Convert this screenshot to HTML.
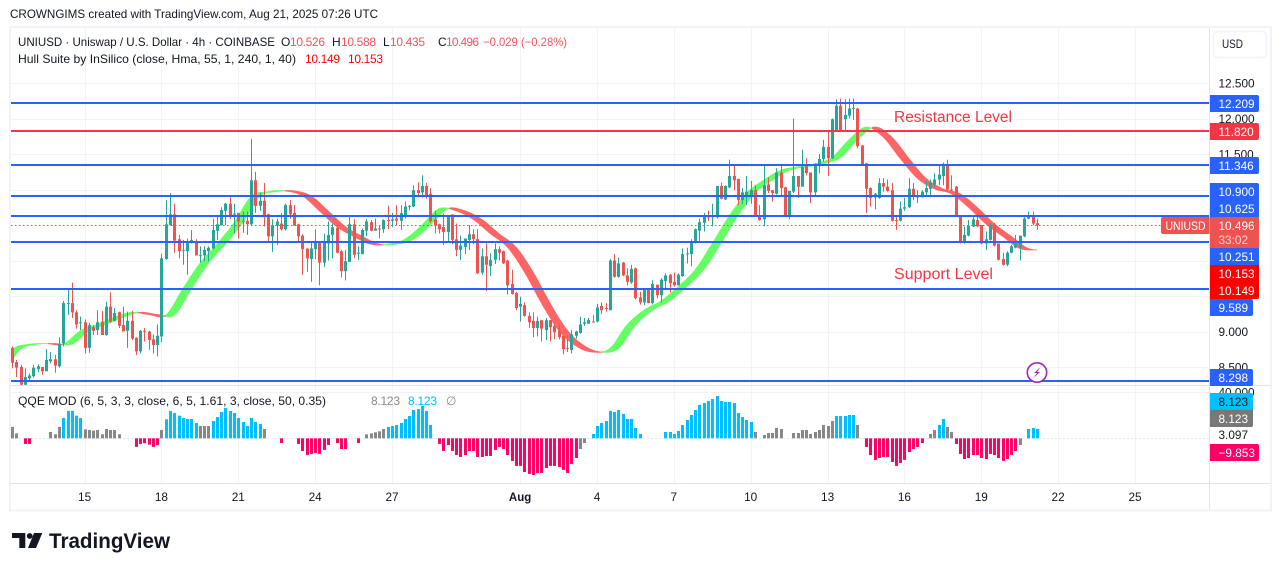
<!DOCTYPE html>
<html lang="en">
<head>
<meta charset="utf-8">
<title>UNIUSD chart</title>
<style>
html,body{margin:0;padding:0;background:#fff;}
svg{display:block;}
text{font-family:"Liberation Sans",sans-serif;fill:#131722;font-size:12px;}
.ax{font-size:11.8px;}
.bd{font-size:11.8px;fill:#fff;}
</style>
</head>
<body>
<svg id="chart" xmlns="http://www.w3.org/2000/svg" width="1281" height="571" viewBox="0 0 1281 571">
  <rect x="0" y="0" width="1281" height="571" fill="#ffffff"/>
  <text x="10" y="18" textLength="368" lengthAdjust="spacingAndGlyphs">CROWNGIMS created with TradingView.com, Aug 21, 2025 07:26 UTC</text>
  <rect x="10" y="27" width="1261" height="483.5" fill="#ffffff" stroke="#f0f3fa" stroke-width="2"/>
  <g id="grid"></g>
  <defs>
    <clipPath id="priceClip"><rect x="11" y="28" width="1198" height="357"/></clipPath>
    <clipPath id="qqeClip"><rect x="11" y="386" width="1198" height="97"/></clipPath>
  </defs>
  <g id="hull" clip-path="url(#priceClip)" opacity="0.6"></g>
  <g id="candles" clip-path="url(#priceClip)"></g>
  <g id="levels"></g>
  <line id="lastLine" x1="11" x2="1161" stroke="#ef5350" stroke-width="1" stroke-dasharray="1.5 2.5"/>
  <g id="qqe" clip-path="url(#qqeClip)"></g>

  <text x="894" y="122" textLength="118" lengthAdjust="spacingAndGlyphs" style="font-size:15.5px;fill:#f23645">Resistance Level</text>
  <text x="894" y="279" textLength="99" lengthAdjust="spacingAndGlyphs" style="font-size:15.5px;fill:#f23645">Support Level</text>

  <g>
    <circle cx="1037" cy="372.5" r="9.7" fill="#ffffff" stroke="#9c27b0" stroke-width="1.6"/>
    <path d="M1040.5 367 L1034 373 L1037 373 L1033.5 378 L1040 372 L1037 372 Z" fill="#9c27b0"/>
  </g>

  <!-- legends -->
  <g>
    <text x="18" y="46" textLength="257" lengthAdjust="spacingAndGlyphs">UNIUSD · Uniswap / U.S. Dollar · 4h · COINBASE</text>
    <text x="281" y="46">O</text><text x="290" y="46" style="fill:#f7525f" textLength="35">10.526</text>
    <text x="332" y="46">H</text><text x="341" y="46" style="fill:#f7525f" textLength="35">10.588</text>
    <text x="383" y="46">L</text><text x="390" y="46" style="fill:#f7525f" textLength="35">10.435</text>
    <text x="438" y="46">C</text><text x="446" y="46" style="fill:#f7525f" textLength="33">10.496</text>
    <text x="483" y="46" style="fill:#f7525f" textLength="84" lengthAdjust="spacingAndGlyphs">−0.029 (−0.28%)</text>
  </g>
  <g>
    <text x="18" y="63" textLength="278" lengthAdjust="spacingAndGlyphs">Hull Suite by InSilico (close, Hma, 55, 1, 240, 1, 40)</text>
    <text x="305" y="63" style="fill:#ff0000" textLength="35">10.149</text>
    <text x="348" y="63" style="fill:#ff0000" textLength="35">10.153</text>
  </g>
  <g>
    <text x="18" y="405" textLength="308" lengthAdjust="spacingAndGlyphs">QQE MOD (6, 5, 3, 3, close, 6, 5, 1.61, 3, close, 50, 0.35)</text>
    <text x="371" y="405" style="fill:#888888" textLength="29">8.123</text>
    <text x="408" y="405" style="fill:#00bfff" textLength="29">8.123</text>
    <text x="446" y="405" style="fill:#888888">∅</text>
  </g>

  <!-- axes frame -->
  <rect x="10" y="385" width="1261" height="1" fill="#e0e3eb"/>
  <rect x="10" y="483" width="1261" height="1" fill="#e0e3eb"/>
  <rect x="1209" y="28" width="1" height="482" fill="#e0e3eb"/>
  <g id="priceTicks"></g>
  <g id="qqeTicks"></g>
  <g id="timeTicks"></g>

  <rect x="1213.5" y="31.5" width="53" height="26" rx="4" fill="#ffffff" stroke="#f0f3fa" stroke-width="1.5"/>
  <text x="1222" y="48" class="ax" textLength="21" lengthAdjust="spacingAndGlyphs">USD</text>

  <!-- axis badges -->
  <g><path d="M1210 95h47a2 2 0 0 1 2 2v13a2 2 0 0 1-2 2h-47z" fill="#2962ff"/><text class="bd" x="1218.5" y="108">12.209</text></g>
  <g><path d="M1210 123h47a2 2 0 0 1 2 2v13a2 2 0 0 1-2 2h-47z" fill="#f23645"/><text class="bd" x="1218.5" y="136">11.820</text></g>
  <g><path d="M1210 157h47a2 2 0 0 1 2 2v13a2 2 0 0 1-2 2h-47z" fill="#2962ff"/><text class="bd" x="1218.5" y="170">11.346</text></g>
  <g><path d="M1210 183h47a2 2 0 0 1 2 2v15h-49z" fill="#2962ff"/><text class="bd" x="1218.5" y="196">10.900</text></g>
  <g><path d="M1210 200h49v17h-49z" fill="#2962ff"/><text class="bd" x="1218.5" y="213">10.625</text></g>
  <g><path d="M1210 217h49v31h-49z" fill="#ef5350"/><text class="bd" x="1218.5" y="230">10.496</text><text x="1218.5" y="244" style="font-size:11.8px;fill:#fbd5d5">33:02</text></g>
  <g><path d="M1163 217h46.5v17h-46.5a2 2 0 0 1-2-2v-13a2 2 0 0 1 2-2z" fill="#ef5350"/><text class="bd" x="1165.5" y="230" textLength="40" lengthAdjust="spacingAndGlyphs">UNIUSD</text></g>
  <g><path d="M1210 248h49v17h-49z" fill="#2962ff"/><text class="bd" x="1218.5" y="261">10.251</text></g>
  <g><path d="M1210 265h49v17h-49z" fill="#ff0000"/><text class="bd" x="1218.5" y="278">10.153</text></g>
  <g><path d="M1210 282h49v15a2 2 0 0 1-2 2h-47z" fill="#ff0000"/><text class="bd" x="1218.5" y="295">10.149</text></g>
  <g><path d="M1210 299h41a2 2 0 0 1 2 2v13a2 2 0 0 1-2 2h-41z" fill="#2962ff"/><text class="bd" x="1218.5" y="312">9.589</text></g>
  <g><path d="M1210 369h41a2 2 0 0 1 2 2v13a2 2 0 0 1-2 2h-41z" fill="#2962ff"/><text class="bd" x="1218.5" y="382">8.298</text></g>
  <g><path d="M1210 393h41a2 2 0 0 1 2 2v15h-43z" fill="#00bfff"/><text x="1218.5" y="406" class="ax">8.123</text></g>
  <g><path d="M1210 410h43v15a2 2 0 0 1-2 2h-41z" fill="#787878"/><text class="bd" x="1218.5" y="423">8.123</text></g>
  <g><path d="M1210 444h47a2 2 0 0 1 2 2v13a2 2 0 0 1-2 2h-47z" fill="#ff0066"/><text class="bd" x="1218.5" y="457">−9.853</text></g>

  <!-- brand -->
  <g>
    <path d="M12 533H25.3V548H19.3V538H12Z M34 533H42.3L36 548H28Z" fill="#131722"/>
    <circle cx="29.7" cy="536" r="2.9" fill="#131722"/>
    <text x="49" y="548" textLength="121" lengthAdjust="spacingAndGlyphs" style="font-size:21.5px;font-weight:bold">TradingView</text>
  </g>
</svg>

<script>
/* Price series, one entry per 4h bar */
const opens=[8.77,8.57,8.50,8.25,8.34,8.37,8.47,8.50,8.44,8.58,
8.61,8.51,8.83,9.39,9.40,9.27,9.12,9.13,8.77,9.06,
9.02,9.14,8.95,9.35,9.15,9.27,9.09,9.01,9.15,8.91,
8.72,9.01,9.00,8.89,8.81,8.93,10.02,10.50,10.65,10.30,
10.14,10.13,10.28,10.25,10.07,10.07,10.13,10.17,10.42,10.50,
10.70,10.80,10.65,10.67,10.55,10.56,10.51,11.13,10.77,10.84,
10.65,10.34,10.49,10.52,10.44,10.78,10.67,10.51,10.35,10.17,
10.02,10.16,10.27,9.97,10.24,10.36,10.46,10.13,9.85,9.98,
10.51,10.10,10.09,10.42,10.54,10.42,10.45,10.44,10.57,10.56,
10.59,10.56,10.62,10.76,10.76,10.99,10.96,11.05,10.94,10.58,
10.51,10.47,10.40,10.65,10.30,10.15,10.19,10.29,10.37,10.30,
9.83,10.06,9.92,10.01,10.16,10.13,10.00,9.67,9.54,9.35,
9.37,9.22,9.15,9.05,9.16,9.02,9.16,9.08,9.01,8.94,
8.77,8.74,8.94,8.98,9.11,9.11,9.14,9.14,9.36,9.33,
9.30,10.00,9.77,9.97,9.79,9.69,9.89,9.48,9.41,9.59,
9.40,9.66,9.51,9.71,9.80,9.70,9.65,9.78,10.09,10.09,
10.25,10.42,10.53,10.62,10.61,10.61,11.05,10.86,11.03,11.19,
11.15,10.85,10.90,10.90,10.99,10.64,10.58,11.07,10.99,10.94,
11.24,11.03,10.63,10.97,11.19,11.04,11.33,11.24,10.96,11.35,
11.43,11.60,11.44,11.83,12.18,11.99,12.04,12.14,12.14,11.62,
11.37,11.02,10.89,10.88,11.09,11.04,10.99,10.57,10.56,10.73,
10.75,11.01,10.92,10.89,10.96,11.01,11.07,11.14,11.19,11.36,
11.00,11.04,10.64,10.27,10.35,10.48,10.57,10.50,10.24,10.29,
10.50,10.24,10.02,9.94,10.11,10.18,10.18,10.34,10.59,10.63,
10.526];
const highs=[8.79,8.60,8.53,8.48,8.41,8.53,8.54,8.50,8.75,8.71,
8.67,8.92,9.43,9.61,9.69,9.30,9.21,9.17,9.12,9.09,
9.30,9.29,9.42,9.55,9.33,9.28,9.35,9.28,9.29,8.92,
9.02,9.05,9.01,8.96,9.10,10.09,10.85,10.95,10.80,10.36,
10.29,10.31,10.43,10.30,10.20,10.20,10.20,10.59,10.64,10.75,
10.81,10.89,10.80,10.67,10.69,10.69,11.71,11.25,10.96,11.09,
10.66,10.58,10.59,10.67,10.80,10.85,10.78,10.52,10.37,10.17,
10.26,10.44,10.27,10.38,10.55,10.52,10.50,10.15,10.15,10.64,
10.58,10.20,10.45,10.58,10.57,10.59,10.49,10.58,10.77,10.67,
10.78,10.78,10.83,10.78,11.06,11.10,11.20,11.09,11.02,10.70,
10.52,10.66,10.64,10.65,10.52,10.35,10.31,10.50,10.44,10.44,
10.17,10.24,10.10,10.24,10.20,10.14,10.01,9.87,9.56,9.49,
9.41,9.27,9.27,9.21,9.16,9.19,9.16,9.10,9.10,8.94,
8.93,9.02,9.01,9.21,9.19,9.19,9.23,9.39,9.41,9.40,
10.02,10.09,10.04,9.98,9.89,9.94,9.90,9.56,9.61,9.61,
9.72,9.66,9.75,9.82,9.81,9.83,9.82,10.17,10.18,10.30,
10.45,10.59,10.67,10.70,10.80,11.05,11.10,11.06,11.42,11.33,
11.15,11.02,11.19,11.12,11.06,10.78,11.35,11.17,10.99,11.30,
11.36,11.04,10.98,12.00,11.19,11.56,11.44,11.24,11.37,11.50,
11.70,11.81,12.00,12.27,12.28,12.27,12.28,12.28,12.15,11.63,
11.37,11.03,10.95,11.16,11.16,11.14,11.09,10.63,10.83,10.88,
11.16,11.09,10.99,10.99,11.13,11.14,11.23,11.36,11.38,11.42,
11.20,11.05,10.64,10.48,10.57,10.64,10.66,10.50,10.41,10.52,
10.53,10.24,10.11,10.13,10.22,10.36,10.35,10.61,10.69,10.69,
10.588];
const lows=[8.48,8.36,8.18,8.22,8.29,8.35,8.43,8.39,8.44,8.55,
8.42,8.49,8.79,9.23,9.19,9.04,9.02,8.69,8.70,8.95,
8.95,8.95,8.94,9.12,9.14,9.05,9.00,8.77,8.88,8.67,
8.69,8.86,8.74,8.69,8.65,8.85,10.01,10.49,10.11,10.03,
9.94,9.80,10.24,10.07,9.97,9.99,9.99,10.16,10.29,10.49,
10.50,10.58,10.38,10.31,10.39,10.36,10.50,10.67,10.70,10.48,
10.27,10.12,10.22,10.42,10.42,10.59,10.49,10.26,9.80,9.84,
9.70,10.02,9.65,9.91,10.00,10.03,10.10,9.76,9.72,9.98,
10.03,10.01,10.09,10.34,10.41,10.42,10.31,10.39,10.44,10.47,
10.50,10.43,10.59,10.71,10.75,10.89,10.89,10.87,10.53,10.38,
10.38,10.22,10.27,10.23,10.06,10.01,10.09,10.15,10.23,9.81,
9.80,9.57,9.78,9.95,10.00,9.95,9.52,9.52,9.30,9.14,
9.21,9.05,8.92,8.93,8.86,8.88,8.86,8.89,8.89,8.68,
8.71,8.69,8.90,8.97,9.08,9.11,9.13,9.13,9.25,9.28,
9.30,9.76,9.76,9.78,9.65,9.67,9.45,9.38,9.37,9.40,
9.38,9.47,9.41,9.59,9.55,9.63,9.65,9.77,9.96,9.92,
10.24,10.27,10.41,10.56,10.48,10.59,10.86,10.85,11.02,10.99,
10.78,10.80,10.78,10.80,10.63,10.56,10.48,10.95,10.83,10.93,
10.91,10.61,10.58,10.95,10.88,11.04,11.20,10.81,10.91,11.23,
11.39,11.19,11.43,11.81,11.81,11.84,12.00,11.98,11.58,11.35,
10.67,10.76,10.72,10.87,10.97,10.97,10.55,10.43,10.55,10.70,
10.74,10.85,10.81,10.89,10.90,10.89,11.04,11.06,11.06,10.99,
10.98,10.63,10.24,10.24,10.34,10.47,10.47,10.23,10.15,10.28,
10.20,10.00,9.93,9.92,10.10,10.17,10.00,10.33,10.58,10.50,
10.435];
const closes=[8.56,8.49,8.25,8.36,8.38,8.49,8.51,8.44,8.60,8.61,
8.52,8.83,9.40,9.40,9.27,9.10,9.13,8.77,9.09,9.01,
9.13,8.95,9.35,9.14,9.26,9.08,9.00,9.15,8.90,8.72,
9.01,9.00,8.88,8.81,8.94,10.03,10.51,10.65,10.28,10.13,
10.15,10.25,10.29,10.07,10.08,10.15,10.18,10.43,10.51,10.71,
10.80,10.63,10.66,10.55,10.56,10.51,11.13,10.77,10.84,10.61,
10.34,10.50,10.55,10.44,10.78,10.65,10.49,10.34,10.16,10.03,
10.17,10.26,9.97,10.26,10.36,10.47,10.11,9.85,9.99,10.51,
10.08,10.11,10.43,10.55,10.42,10.45,10.44,10.57,10.56,10.58,
10.56,10.67,10.76,10.77,10.99,10.95,11.05,10.91,10.55,10.49,
10.44,10.40,10.64,10.29,10.15,10.21,10.31,10.37,10.30,9.82,
10.06,9.94,10.01,10.16,10.11,9.96,9.65,9.53,9.33,9.39,
9.22,9.13,9.05,9.15,9.04,9.16,9.06,8.99,8.92,8.75,
8.76,8.96,9.00,9.10,9.13,9.16,9.13,9.34,9.30,9.32,
10.00,9.77,9.96,9.79,9.70,9.88,9.47,9.41,9.60,9.40,
9.67,9.51,9.73,9.79,9.68,9.65,9.80,10.09,10.10,10.27,
10.44,10.54,10.64,10.61,10.63,11.05,10.87,11.05,11.19,11.13,
10.85,10.96,10.97,10.99,10.63,10.57,11.06,10.98,10.95,11.24,
11.02,10.63,10.98,11.19,11.04,11.32,11.23,10.96,11.36,11.43,
11.60,11.44,11.99,12.18,11.83,12.05,12.14,12.15,11.61,11.36,
11.01,10.88,10.94,11.09,11.04,10.98,10.56,10.56,10.73,10.75,
11.01,10.90,10.89,10.97,11.02,11.10,11.14,11.21,11.36,11.00,
10.99,10.64,10.25,10.36,10.49,10.58,10.48,10.24,10.30,10.50,
10.21,10.01,9.94,10.11,10.20,10.24,10.35,10.59,10.63,10.52,
10.496];

/* Hull moving average read every 4th bar, starting four bars before the first candle */
const hullValues=[8.45,8.75,8.82,8.83,8.82,9.01,9.10,9.20,9.27,9.24,9.23,9.60,9.96,10.23,10.53,10.90,10.97,10.98,10.91,10.70,10.48,10.34,10.23,10.23,10.30,10.50,10.73,10.70,10.58,10.38,10.19,9.84,9.40,9.02,8.80,8.71,8.76,9.09,9.30,9.43,9.63,9.87,10.24,10.63,10.95,11.13,11.27,11.32,11.36,11.45,11.70,11.88,11.74,11.44,11.16,11.01,10.94,10.75,10.52,10.34,10.17,10.149];

/* QQE MOD histogram, one entry per bar; trend: 1 strong up, 0 neutral, -1 down */
const qqeValues=[9.9,4.3,0,-4.9,-4.9,0,0,0,0,5.5,
3.5,9.9,17.7,23.8,23.8,19.7,17.7,7.8,7.2,6.7,
7.2,3.5,8.1,7.2,7.2,3.5,0,0,0,-7.5,
-4.9,-4.3,-5.5,-7.5,-5.8,7.2,16.5,23.8,22,19.7,
17.7,16.8,16.8,13.3,10.7,10.7,10.7,15,18.5,22.9,
26.4,23.8,22,17.7,14.2,10.7,17.7,14.2,12.5,8.1,
0,0,0,-4.1,0,0,0,-4.9,-11,-14.5,
-13.6,-12.8,-13.6,-10.1,-5.8,0,-4.1,-9.3,-9.3,0,
0,-4.1,0,3.5,4.3,5.2,6.1,8.1,9.9,10.7,
11.6,13.3,16.8,19.4,24.6,25.5,28.1,23.8,11.6,0,
-4.9,-11,-5.8,-11,-14.5,-16.2,-14.5,-11,-11,-16.2,
-16.2,-15.4,-15.4,-10.1,-7.5,-9.3,-14.5,-19.7,-24,-24,
-29.3,-31,-31.9,-30.1,-30.1,-25.8,-24,-24,-24.9,-27.5,
-30.1,-22.3,-17.1,-9.3,-4.1,0,3.8,10.7,13.3,15,
23.8,22.9,24.6,21.2,16.8,16.8,9,3.8,0,0,
0,0,0,5.5,5.5,3.8,6.4,11.6,15.9,20.3,
24.6,29,30.7,32.5,34.2,36.8,32.5,31.6,31.6,30.7,
22,18.5,15.9,14.2,5.5,0,2.9,4.6,4.6,9,
8.1,0,0,4.6,4.6,7.2,7.2,3.8,5.5,7.2,
11.6,10.7,15,19.4,19.4,19.4,20.3,20.3,11.6,0,
-7.5,-14.5,-18.8,-17.1,-16.2,-16.2,-20.6,-24,-21.4,-18.8,
-11.9,-9.3,-7.5,-4.1,0,3.8,7.2,11.6,16.8,9.9,
5.5,-4.9,-13.6,-18,-17.1,-14.5,-14.5,-17.1,-18,-13.6,
-14.5,-17.1,-19.7,-18,-14.5,-11,-5.8,0,8.1,9,
8.123];
const qqeTrend=[0,0,0,-1,-1,0,0,0,0,0,
0,0,1,1,1,1,1,0,0,0,
0,0,0,0,0,0,0,0,0,-1,
-1,-1,-1,-1,-1,0,1,1,1,1,
1,1,1,1,0,0,0,1,1,1,
1,1,1,1,1,1,1,1,1,0,
0,0,0,-1,0,0,0,-1,-1,-1,
-1,-1,-1,-1,-1,0,-1,-1,-1,0,
0,-1,0,0,0,0,0,0,1,1,
1,1,1,1,1,1,1,1,1,0,
-1,-1,-1,-1,-1,-1,-1,-1,-1,-1,
-1,-1,-1,-1,-1,-1,-1,-1,-1,-1,
-1,-1,-1,-1,-1,-1,-1,-1,-1,-1,
-1,-1,-1,0,0,0,1,1,1,1,
1,1,1,1,1,1,1,1,0,0,
0,0,0,1,1,1,1,1,1,1,
1,1,1,1,1,1,1,1,1,1,
1,1,1,1,0,0,0,0,0,0,
0,0,0,0,0,0,0,0,0,0,
0,0,0,1,1,1,1,1,0,0,
-1,-1,-1,-1,-1,-1,-1,-1,-1,-1,
-1,-1,-1,-1,0,0,0,1,1,0,
0,-1,-1,-1,-1,-1,-1,-1,-1,-1,
-1,-1,-1,-1,-1,-1,0,0,1,1,
1];

/* Horizontal levels and axis labels */
const supportLevels=[12.209,11.346,10.9,10.625,10.251,9.589,8.298];
const resistanceLevels=[11.82];
const lastPrice=10.496;
const priceTickValues=[12.5,12,11.5,11,10.5,10,9.5,9,8.5];
const priceTickLabels=["12.500","12.000","11.500","","","","","9.000","8.500"];
const qqeTickValues=[40,3.097];
const qqeTickLabels=["40.000","3.097"];
const timeTickBars=[17,35,53,71,89,119,137,155,173,191,209,227,245,263];
const timeTickLabels=["15","18","21","24","27","Aug","4","7","10","13","16","19","22","25"];

/* Axis functions */
function xScale(bar){return 12+4.27*bar;}
function yScale(price){return 83+(12.5-price)*71;}
function qqeY(value){return 438.3-value*1.15;}

const NS='http://www.w3.org/2000/svg';
function mk(tag,parent,props){
  const el=document.createElementNS(NS,tag);
  for(const k in props){el.setAttribute(k,props[k]);}
  parent.appendChild(el);
  return el;
}

/* Grid */
const gridG=document.getElementById('grid');
timeTickBars.forEach(function(bar){
  const v=mk('rect',gridG,{x:Math.round(xScale(bar)),y:28,width:1,height:455,fill:'#f2f3f6'});
  
  
});
priceTickValues.forEach(function(p){
  const h=mk('rect',gridG,{x:11,y:Math.round(yScale(p)),width:1198,height:1,fill:'#f2f3f6'});
  
  
});
const topQqeGrid=mk('rect',gridG,{x:11,y:Math.round(qqeY(40)),width:1198,height:1,fill:'#f2f3f6'});


const zeroLine=mk('line',gridG,{x1:11,x2:1209,y1:438.5,y2:438.5,stroke:'#e4e6ec','stroke-width':1,'stroke-dasharray':'2 2'});



/* Hull band: between the hull and its value two bars earlier */
function hullAt(t){
  const n=hullValues.length;
  const u=(t+4)/4;
  const k=Math.max(0,Math.min(n-2,Math.floor(u)));
  const f=u-k;
  const p0=hullValues[Math.max(0,k-1)],p1=hullValues[k],p2=hullValues[k+1],p3=hullValues[Math.min(n-1,k+2)];
  return 0.5*((2*p1)+(-p0+p2)*f+(2*p0-5*p1+4*p2-p3)*f*f+(-p0+3*p1-3*p2+p3)*f*f*f);
}
const hullG=document.getElementById('hull');
let run=[],runUp=null;
function flushRun(){
  if(run.length<2){return;}
  const front=run.map(function(t){return xScale(t).toFixed(2)+','+yScale(hullAt(t)).toFixed(2);});
  const back=run.slice().reverse().map(function(t){return xScale(t).toFixed(2)+','+yScale(hullAt(t-2)).toFixed(2);});
  const col=runUp?'#00ff00':'#ff0000';
  const poly=mk('polygon',hullG,{points:front.concat(back).join(' '),fill:col,stroke:col,'stroke-width':0.8});
  
  
}
for(let t=0;t<=opens.length-1;t+=0.5){
  const up=hullAt(t)>=hullAt(t-2);
  if(runUp!==null&&up!==runUp){
    run.push(t);
    flushRun();
    run=[t];
  }else{
    run.push(t);
  }
  runUp=up;
}
flushRun();

/* Candles */
const candleG=document.getElementById('candles');
opens.forEach(function(o,i){
  const c=closes[i];
  const col=c>=o?'#26a69a':'#ef5350';
  const cx=Math.round(xScale(i));
  const g=mk('g',candleG,{});
  
  
  const yh=yScale(highs[i]),yl=yScale(lows[i]);
  mk('rect',g,{x:cx,y:yh.toFixed(2),width:1,height:(yl-yh).toFixed(2),fill:col});
  const top=Math.min(yScale(o),yScale(c));
  const bh=Math.max(1,Math.abs(yScale(o)-yScale(c)));
  mk('rect',g,{x:cx-1,y:top.toFixed(2),width:3,height:bh.toFixed(2),fill:col});
});

/* Levels */
const levelG=document.getElementById('levels');
supportLevels.forEach(function(p){
  const l=mk('rect',levelG,{x:11,y:Math.round(yScale(p)-0.2)-1,width:1198,height:2,fill:'#2962ff'});
  
  
});
resistanceLevels.forEach(function(p){
  const l=mk('rect',levelG,{x:11,y:Math.round(yScale(p)-0.2)-1,width:1198,height:2,fill:'#f23645'});
  
  
});
const lastLine=document.getElementById('lastLine');
lastLine.setAttribute('y1',Math.round(yScale(lastPrice))+0.5);
lastLine.setAttribute('y2',Math.round(yScale(lastPrice))+0.5);

/* QQE histogram */
const qqeG=document.getElementById('qqe');
qqeValues.forEach(function(v,i){
  if(v===0){return;}
  const tr=qqeTrend[i];
  const col=tr>0?'#00bfff':(tr<0?'#ff0066':'#888888');
  const y0=qqeY(0),y1=qqeY(v);
  const b=mk('rect',qqeG,{x:Math.round(xScale(i))-1,y:Math.min(y0,y1).toFixed(2),width:3,height:Math.abs(y1-y0).toFixed(2),fill:col});
  
  
});

/* Axis tick labels */
const priceTickG=document.getElementById('priceTicks');
priceTickValues.forEach(function(p,i){
  if(!priceTickLabels[i]){return;}
  const t=mk('text',priceTickG,{x:1218.5,y:(yScale(p)+4.3).toFixed(1),class:'ax'});
  
  
  t.textContent=priceTickLabels[i];
});
const qqeTickG=document.getElementById('qqeTicks');
qqeTickValues.forEach(function(v,i){
  const t=mk('text',qqeTickG,{x:1218.5,y:(qqeY(v)+4.3).toFixed(1),class:'ax'});
  
  
  t.textContent=qqeTickLabels[i];
});
const timeTickG=document.getElementById('timeTicks');
timeTickBars.forEach(function(bar,i){
  const t=mk('text',timeTickG,{x:xScale(bar).toFixed(1),y:501,'text-anchor':'middle',style:timeTickLabels[i]==='Aug'?'font-weight:bold;font-size:11.5px':'font-size:11.8px'});
  
  
  t.textContent=timeTickLabels[i];
});
</script>
</body>
</html>
